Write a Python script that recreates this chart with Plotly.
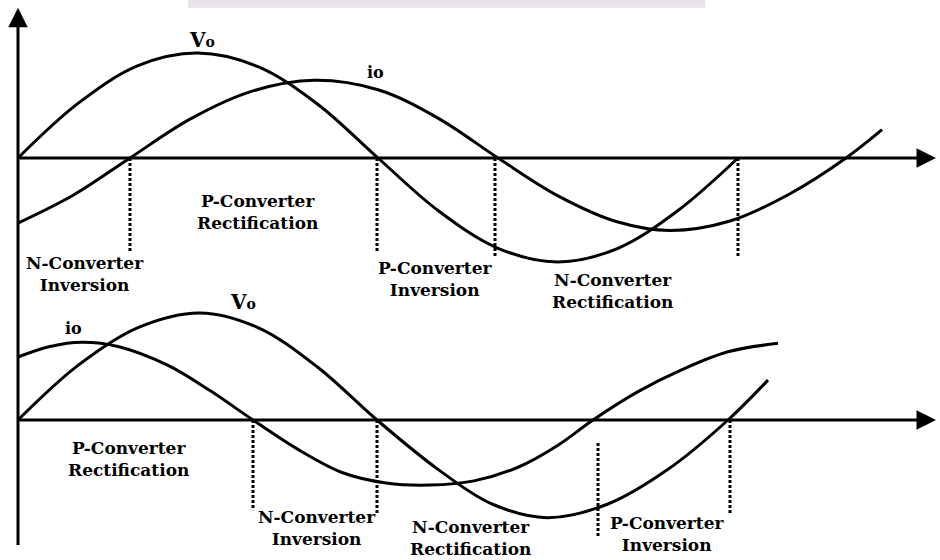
import plotly.graph_objects as go

# angle axis in degrees (wt), amplitude normalised to the peak of Vo
# top panel: P / N converter operation, current lagging
top_vo_deg = [0, 30, 60, 90, 120, 150, 180, 210, 240, 270, 300, 330, 360]
top_vo_val = [0, 0.52, 0.88, 1.0, 0.87, 0.51, 0, -0.5, -0.86, -0.99, -0.86, -0.5, 0]

top_io_deg = [0, 28, 56, 86, 116, 148, 180, 210, 240, 270, 300, 326, 356, 386, 414, 432]
top_io_val = [-0.62, -0.35, 0, 0.37, 0.63, 0.74, 0.65, 0.38, 0, -0.36, -0.61, -0.69, -0.6, -0.34, 0, 0.27]

# bottom panel: current leading
bot_vo_deg = [0, 30, 60, 91, 120, 150, 179.5, 210, 237, 264.5, 295, 325, 355, 375]
bot_vo_val = [0, 0.52, 0.88, 1.02, 0.88, 0.5, 0, -0.47, -0.8, -0.93, -0.8, -0.47, 0, 0.38]

bot_io_deg = [0, 16, 32, 50, 75, 96, 117.5, 140, 162, 184, 206, 228, 250, 270, 287.5, 310, 332, 355, 380]
bot_io_val = [0.6, 0.7, 0.74, 0.7, 0.52, 0.28, 0, -0.28, -0.5, -0.6, -0.62, -0.58, -0.45, -0.24, 0, 0.27, 0.48, 0.65, 0.73]

# dotted boundaries: angle, upper end, lower end
top_marks_deg = [56, 179.5, 238.5, 360]
top_marks_from = [0, 0, 0, 0]
top_marks_to = [-0.9, -0.9, -0.94, -0.94]
bot_marks_deg = [117.5, 179.5, 290, 356]
bot_marks_from = [0, 0, -0.22, 0]
bot_marks_to = [-0.86, -0.89, -1.11, -0.89]

# region labels
top_labels = ["P-Converter<br>Rectification", "N-Converter<br>Inversion",
              "P-Converter<br>Inversion", "N-Converter<br>Rectification"]
top_label_deg = [119.5, 33.5, 208.5, 297]
top_label_val = [-0.51, -1.10, -1.15, -1.27]
bot_labels = ["P-Converter<br>Rectification", "N-Converter<br>Inversion",
              "N-Converter<br>Rectification", "P-Converter<br>Inversion"]
bot_label_deg = [55, 149.5, 226, 324.5]
bot_label_val = [-0.37, -1.03, -1.12, -1.09]

SERIF = "DejaVu Serif"
curve = dict(color="black", width=3, shape="spline")
dots = dict(color="black", width=3, dash="3px,2px")

fig = go.Figure()
fig.add_trace(go.Scatter(x=top_vo_deg, y=top_vo_val, mode="lines", line=curve, yaxis="y"))
fig.add_trace(go.Scatter(x=top_io_deg, y=top_io_val, mode="lines", line=curve, yaxis="y"))
fig.add_trace(go.Scatter(x=bot_vo_deg, y=bot_vo_val, mode="lines", line=curve, yaxis="y2"))
fig.add_trace(go.Scatter(x=bot_io_deg, y=bot_io_val, mode="lines", line=curve, yaxis="y2"))

for d, a, b in zip(top_marks_deg, top_marks_from, top_marks_to):
    fig.add_trace(go.Scatter(x=[d, d], y=[a, b], mode="lines", line=dots, yaxis="y"))
for d, a, b in zip(bot_marks_deg, bot_marks_from, bot_marks_to):
    fig.add_trace(go.Scatter(x=[d, d], y=[a, b], mode="lines", line=dots, yaxis="y2"))

# axes drawn as arrows
arrow = dict(showarrow=True, arrowhead=2, arrowsize=1.3, arrowwidth=3,
             arrowcolor="black", text="", axref="x")
fig.add_annotation(x=0, y=1.43, ax=0, ay=-3.70, xref="x", yref="y", ayref="y", **arrow)
fig.add_annotation(x=459, y=0, ax=0, ay=0, xref="x", yref="y", ayref="y", **arrow)
fig.add_annotation(x=459, y=0, ax=0, ay=0, xref="x", yref="y2", ayref="y2", **arrow)

font = dict(family=SERIF, size=17, color="black")
for t, d, v in zip(top_labels, top_label_deg, top_label_val):
    fig.add_annotation(x=d, y=v, xref="x", yref="y", text="<b>" + t + "</b>",
                       showarrow=False, font=font)
for t, d, v in zip(bot_labels, bot_label_deg, bot_label_val):
    fig.add_annotation(x=d, y=v, xref="x", yref="y2", text="<b>" + t + "</b>",
                       showarrow=False, font=font)

vo_text = "<b>V<span style='font-size:14px'>o</span></b>"
io_text = "<b>io</b>"
fig.add_annotation(x=92, y=1.12, xref="x", yref="y", text=vo_text, showarrow=False,
                   font=dict(family=SERIF, size=20, color="black"))
fig.add_annotation(x=178.5, y=0.81, xref="x", yref="y", text=io_text, showarrow=False,
                   font=dict(family=SERIF, size=16, color="black"))
fig.add_annotation(x=112.5, y=1.12, xref="x", yref="y2", text=vo_text, showarrow=False,
                   font=dict(family=SERIF, size=20, color="black"))
fig.add_annotation(x=27.5, y=0.87, xref="x", yref="y2", text=io_text, showarrow=False,
                   font=dict(family=SERIF, size=16, color="black"))

# faint watermark strip at the very top of the source image
fig.add_shape(type="rect", xref="paper", yref="paper", x0=0.2, x1=0.75, y0=0.986, y1=1.0,
              fillcolor="#ebe3eb", line_width=0, layer="below")

fig.update_layout(
    width=940, height=560,
    margin=dict(l=0, r=0, t=0, b=0),
    paper_bgcolor="white", plot_bgcolor="white",
    showlegend=False,
    xaxis=dict(range=[-9, 461], visible=False),
    yaxis=dict(range=[-402 / 105, 158 / 105], visible=False),
    yaxis2=dict(range=[-140 / 105, 420 / 105], visible=False, overlaying="y"),
)

# drop the default page margin so the figure fills the window
fig.write_html("out.html", config={"displayModeBar": False},
               post_script="document.body.style.margin='0';")
